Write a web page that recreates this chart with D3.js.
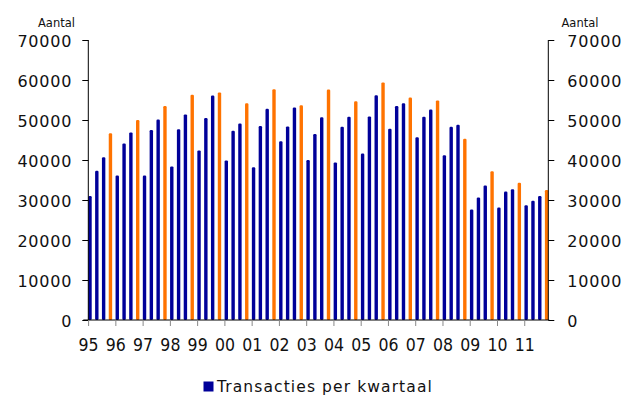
<!DOCTYPE html>
<html>
<head>
<meta charset="utf-8">
<script src="https://cdn.jsdelivr.net/npm/d3@7"></script>
<style>
  html, body { margin: 0; padding: 0; background: #fff; }
  svg { display: block; }
  text { font-family: "DejaVu Sans", Verdana, sans-serif; fill: #111; }
</style>
</head>
<body>
<svg id="chart" width="633" height="396"></svg>
<script>
// Year labels on the category axis (one label per four quarters)
const years = ["95","96","97","98","99","00","01","02","03","04","05","06","07","08","09","10","11"];
const quarters = ["K1","K2","K3","K4"];

// Number of transactions per quarter, 1995 K1 .. 2011 K4
const transactions = [
  31000, 37300, 40700, 46700,   // 1995
  36100, 44100, 46900, 50000,   // 1996
  36100, 47500, 50100, 53500,   // 1997
  38400, 47700, 51400, 56300,   // 1998
  42400, 50500, 56100, 56900,   // 1999
  39900, 47300, 49100, 54200,   // 2000
  38200, 48500, 52800, 57700,   // 2001
  44700, 48400, 53100, 53700,   // 2002
  40000, 46500, 50700, 57600,   // 2003
  39400, 48300, 50800, 54700,   // 2004
  41600, 50900, 56200, 59400,   // 2005
  47800, 53500, 54200, 55600,   // 2006
  45700, 50800, 52600, 54900,   // 2007
  41200, 48300, 48800, 45300,   // 2008
  27600, 30600, 33600, 37200,   // 2009
  28100, 32100, 32700, 34300,   // 2010
  28700, 29800, 31000, 32500    // 2011
];

const yTicks = [0, 10000, 20000, 30000, 40000, 50000, 60000, 70000];
const unitLabel = "Aantal";
const legendLabel = "Transacties per kwartaal";

const colorQ = "#000099";
const colorQ4 = "#ff7300";

const svg = d3.select("#chart");
const plotLeft = 88.3, plotRight = 548.3, plotTop = 40, plotBottom = 320;

const periods = [];
years.forEach(yr => quarters.forEach(q => periods.push(yr + q)));
const data = periods.map((p, i) => ({ id: p, q: i % 4, value: transactions[i] }));

const x = d3.scaleBand()
  .domain(periods)
  .range([plotLeft, plotRight])
  .paddingInner(0.5)
  .paddingOuter(0);

const y = d3.scaleLinear().domain([0, 70000]).range([plotBottom, plotTop]);

// Bars: fourth quarter highlighted
svg.append("g")
  .selectAll("rect")
  .data(data)
  .join("rect")
  .attr("x", d => x(d.id))
  .attr("width", x.bandwidth())
  .attr("y", d => y(d.value))
  .attr("height", d => y(0) - y(d.value))
  .attr("rx", 1.2)
  .attr("fill", d => d.q === 3 ? colorQ4 : colorQ);

function styleValueAxis(g) {
  g.select(".domain").attr("stroke", "#000").attr("d", `M0,${plotTop}V${plotBottom}`);
  g.selectAll(".tick line").attr("stroke", "#000");
  g.selectAll(".tick text")
    .attr("font-size", 16).attr("letter-spacing", "0.8px")
    .attr("dy", "0.4em")
    .style("font-family", "'DejaVu Sans', sans-serif").attr("fill", "#111");
}

// Left value axis
svg.append("g")
  .attr("transform", `translate(${plotLeft},0)`)
  .call(d3.axisLeft(y).tickValues(yTicks).tickSize(6).tickPadding(10).tickFormat(d3.format("d")))
  .call(styleValueAxis);

// Right value axis
svg.append("g")
  .attr("transform", `translate(${plotRight},0)`)
  .call(d3.axisRight(y).tickValues(yTicks).tickSize(6).tickPadding(13).tickFormat(d3.format("d")))
  .call(styleValueAxis);

// Category axis: one tick per year, at the first quarter
const xAxis = svg.append("g");
xAxis.append("line")
  .attr("x1", plotLeft - 5).attr("x2", plotRight + 1)
  .attr("y1", y(0)).attr("y2", y(0))
  .attr("stroke", "#000");
const yearTicks = xAxis.selectAll("g.year")
  .data(years)
  .join("g")
  .attr("class", "year")
  .attr("transform", d => `translate(${x(d + "K1") + 0.3},${y(0)})`);
yearTicks.append("line")
  .attr("y1", 0).attr("y2", 6)
  .attr("stroke", "#888");
yearTicks.append("text")
  .attr("y", 31)
  .attr("text-anchor", "middle")
  .attr("font-size", 17.5)
  .style("font-stretch", "condensed")
  .style("font-family", "'DejaVu Sans Condensed', 'DejaVu Sans', sans-serif")
  .text(d => d);

// Unit labels above both value axes
svg.append("text").attr("x", 38).attr("y", 26.5).attr("font-size", 11.5).text(unitLabel);
svg.append("text").attr("x", 561.5).attr("y", 26.5).attr("font-size", 11.5).text(unitLabel);

// Legend
const legend = svg.append("g").attr("transform", "translate(203.5,381.5)");
legend.append("rect").attr("width", 10).attr("height", 10).attr("fill", colorQ);
legend.append("text")
  .attr("x", 13.5).attr("y", 10.3)
  .attr("font-size", 15.5)
  .attr("letter-spacing", "1.1px")
  .text(legendLabel);
</script>
</body>
</html>
